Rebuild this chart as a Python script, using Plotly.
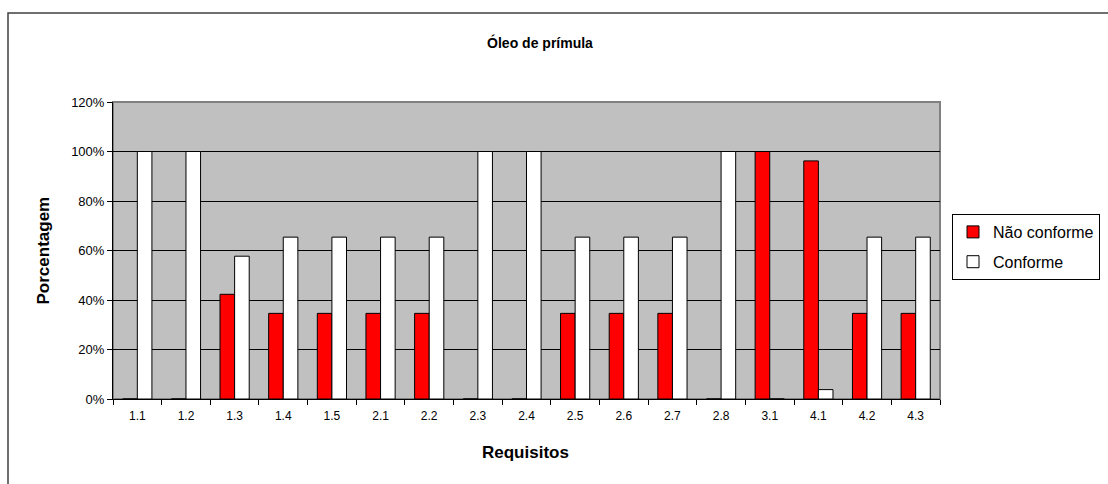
import plotly.graph_objects as go

# Requirement codes on the x axis
requisitos = ["1.1", "1.2", "1.3", "1.4", "1.5", "2.1", "2.2", "2.3", "2.4",
              "2.5", "2.6", "2.7", "2.8", "3.1", "4.1", "4.2", "4.3"]

# Share of samples (%) per requirement
nao_conforme = [0, 0, 42.3, 34.6, 34.6, 34.6, 34.6, 0, 0,
                34.6, 34.6, 34.6, 0, 100, 96.2, 34.6, 34.6]
conforme = [100, 100, 57.7, 65.4, 65.4, 65.4, 65.4, 100, 100,
            65.4, 65.4, 65.4, 100, 0, 3.8, 65.4, 65.4]

y_ticks = [0, 20, 40, 60, 80, 100, 120]
y_tick_labels = ["0%", "20%", "40%", "60%", "80%", "100%", "120%"]

FONT = "Liberation Sans, Arial, sans-serif"

W, H = 1108, 484
L, R, T, B = 113, 168, 102, 85
pw, ph = W - L - R, H - T - B


def px_x(p):
    return (p - L) / pw


def px_y(p):
    return (H - B - p) / ph


fig = go.Figure()
fig.add_trace(go.Bar(
    x=requisitos, y=nao_conforme, name="Não conforme", legendgroup="a",
    marker=dict(color="#FF0000", line=dict(color="black", width=1)),
))
fig.add_trace(go.Bar(
    x=requisitos, y=conforme, name="Conforme", legendgroup="b",
    marker=dict(color="#FFFFFF", line=dict(color="black", width=1)),
))

fig.update_layout(
    width=W, height=H,
    margin=dict(l=L, r=R, t=T, b=B, autoexpand=False),
    paper_bgcolor="white",
    plot_bgcolor="#C0C0C0",
    barmode="group", bargap=0.4, bargroupgap=0,
    font=dict(family=FONT, size=12, color="black"),
    title=dict(text="<b>Óleo de prímula</b>", font=dict(size=14, family=FONT),
               xref="paper", x=px_x(540), xanchor="center",
               yref="container", y=1 - 43 / H, yanchor="middle"),
    legend=dict(x=px_x(952), xanchor="left", y=px_y(214), yanchor="top",
                bgcolor="white", bordercolor="black", borderwidth=1,
                font=dict(size=16, family=FONT),
                traceorder="grouped", tracegroupgap=6,
                itemclick=False),
    showlegend=True,
)

fig.update_xaxes(
    type="category", showgrid=False, showline=True, linecolor="black", linewidth=1,
    ticks="outside", tickson="boundaries", ticklen=5, tickcolor="black",
    ticklabelstandoff=6,
    tickfont=dict(size=12, family=FONT), fixedrange=True,
)
fig.update_yaxes(
    range=[0, 120], tickmode="array", tickvals=y_ticks, ticktext=y_tick_labels,
    showgrid=True, gridcolor="black", gridwidth=1, zeroline=False,
    showline=True, linecolor="black", linewidth=1,
    ticks="outside", ticklen=5, tickcolor="black",
    tickfont=dict(size=13, family=FONT), fixedrange=True,
)

# Grey frame on the plot area, outer chart frame
fig.add_shape(type="rect", xref="paper", yref="paper", x0=0, x1=1, y0=0, y1=1,
              line=dict(color="#808080", width=2), layer="below")
fig.add_shape(type="rect", xref="paper", yref="paper",
              x0=px_x(8), x1=px_x(W + 20), y0=px_y(H + 20), y1=px_y(13),
              line=dict(color="#404040", width=1.5), fillcolor="rgba(0,0,0,0)")

# Axis titles
fig.add_annotation(text="<b>Porcentagem</b>", xref="paper", yref="paper",
                   x=px_x(43), y=0.5, xanchor="center", yanchor="middle",
                   textangle=-90, showarrow=False,
                   font=dict(size=17, family=FONT))
fig.add_annotation(text="<b>Requisitos</b>", xref="paper", yref="paper",
                   x=px_x(525), y=px_y(452), xanchor="center", yanchor="middle",
                   showarrow=False, font=dict(size=17, family=FONT))

fig.write_html("out.html")
